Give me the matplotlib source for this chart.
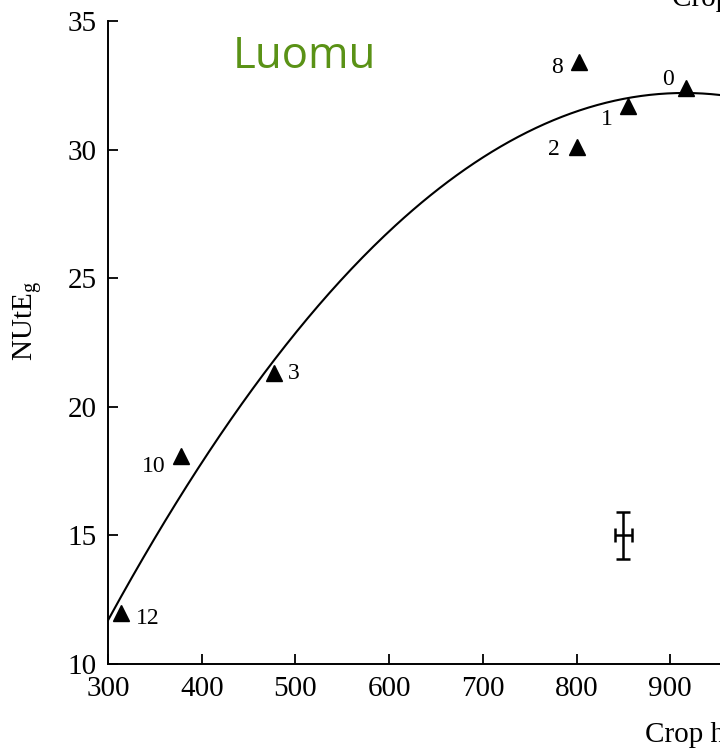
import matplotlib
matplotlib.use("Agg")
import matplotlib.pyplot as plt
import numpy as np

# treatment points (crop yield vs NUtE_g)
labels = ["12", "10", "3", "2", "8", "1", "0"]
crop_x = [314, 378, 477, 800, 803, 855, 917]
nute_y = [12.0, 18.1, 21.3, 30.1, 33.4, 31.7, 32.4]

# quadratic regression coefficients (c0 + c1*x + c2*x^2)
fit_coef = [-13.18, 0.09919, -5.42e-5]

# pooled standard error marker
err_x, err_y = 850, 15.0
err_dx, err_dy = 9, 0.92

plt.rcParams["font.family"] = ["Liberation Serif", "DejaVu Serif"]

fig = plt.figure(figsize=(7.2, 7.51), dpi=100)
ax = fig.add_axes([108 / 720, 87 / 751, 656 / 720, 643 / 751])

xs = np.linspace(300, 1000, 300)
ax.plot(xs, np.polyval(fit_coef[::-1], xs), color="black", lw=1.5)
ax.plot(crop_x, nute_y, "^", color="black", markersize=12, clip_on=False)

# label placement offsets in points
offsets = {"12": (11, -4), "10": (-11, -8), "3": (10, 0), "2": (-12, -2),
           "8": (-12, -4), "1": (-11, -10), "0": (-9, 6)}
for lab, x, y in zip(labels, crop_x, nute_y):
    dx, dy = offsets[lab]
    ax.annotate(lab, (x, y), xytext=(dx, dy), textcoords="offset points",
                ha="left" if dx > 0 else "right", va="center", fontsize=17)

ax.errorbar(err_x, err_y, xerr=err_dx, yerr=err_dy, color="black",
            lw=1.8, capsize=5, capthick=1.8)

ax.set_xlim(300, 1000)
ax.set_ylim(10, 35)
ax.set_xticks([300, 400, 500, 600, 700, 800, 900])
ax.set_yticks([10, 15, 20, 25, 30, 35])
ax.tick_params(direction="in", length=7, width=1.3, labelsize=21)
ax.tick_params(axis="y", pad=8)
ax.tick_params(axis="x", pad=9)
for side in ["top", "right"]:
    ax.spines[side].set_visible(False)
for side in ["left", "bottom"]:
    ax.spines[side].set_linewidth(1.4)

fig.text(28 / 720, 1 - 321 / 751, r"NUtE$_\mathregular{g}$", rotation=90,
         ha="center", va="center", fontsize=21)
fig.text(645 / 720, 1 - 742 / 751, "Crop harvest index", fontsize=21,
         ha="left", va="baseline")
fig.text(672 / 720, 1 - 6 / 751, "Crop production", fontsize=21,
         ha="left", va="baseline")

fig.text(233 / 720, 1 - 68 / 751, "Luomu", color="#5a9216", fontsize=31.5,
         family="Open Sans", ha="left", va="baseline")

fig.savefig("out.png", dpi=100)
